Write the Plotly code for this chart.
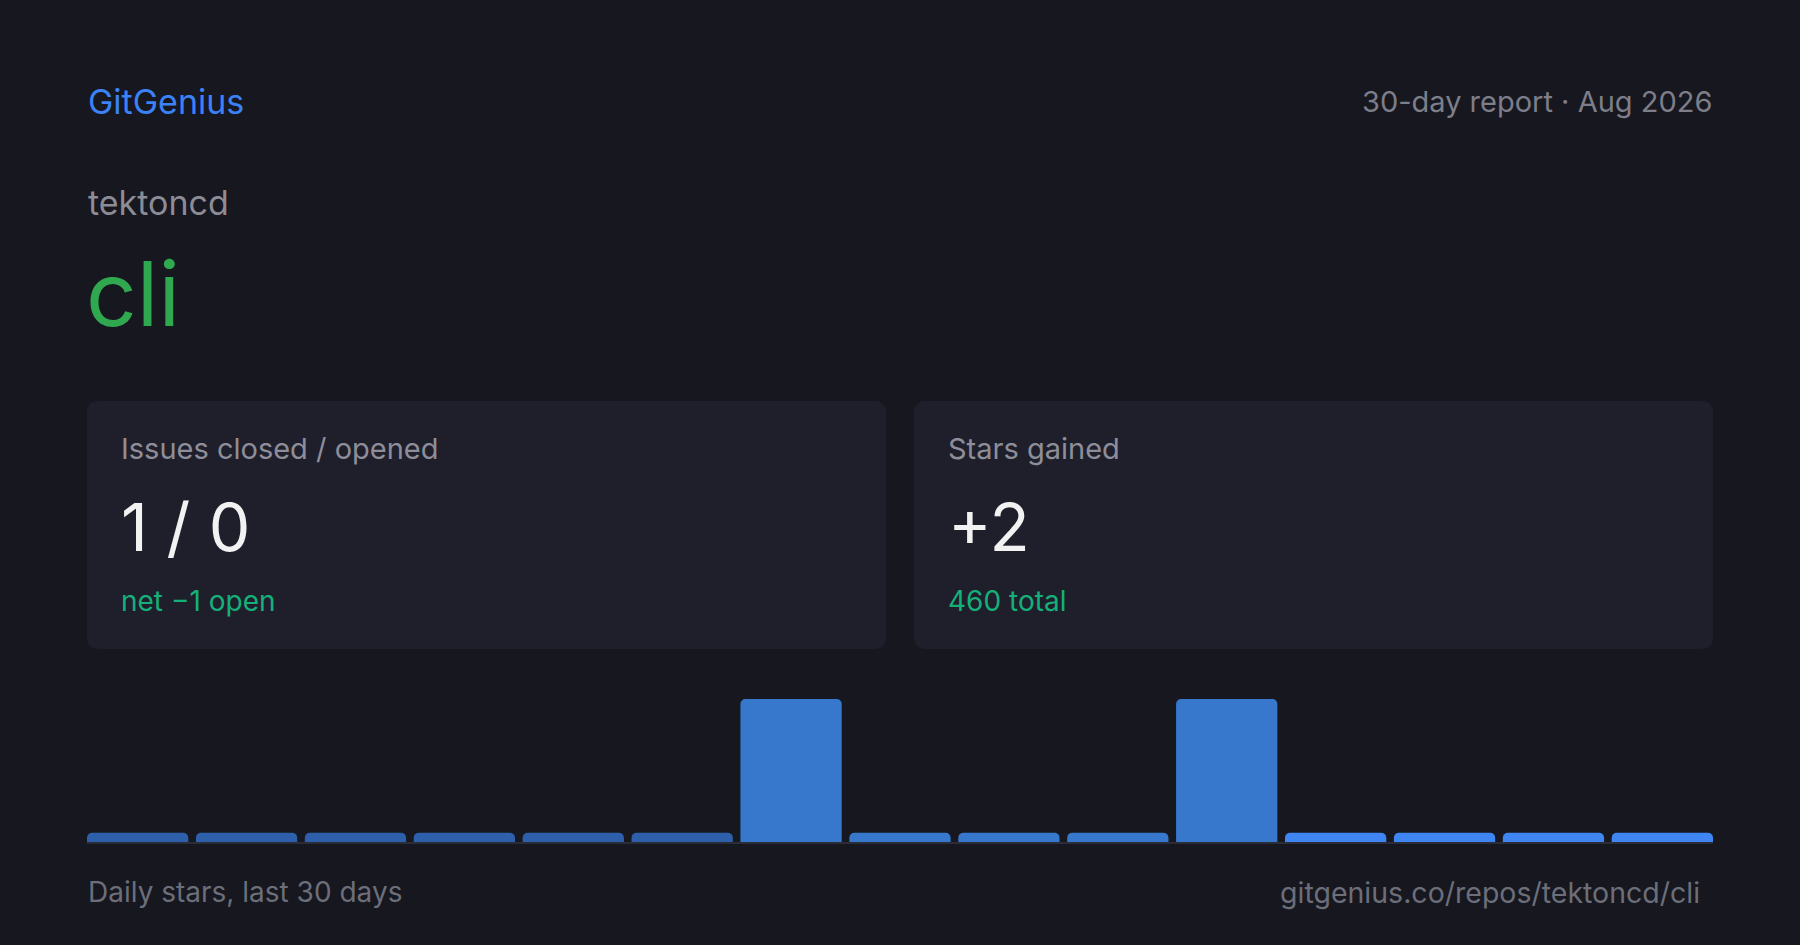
import plotly.graph_objects as go

W, H = 1800, 945

# stars gained per 2-day bucket over the last 30 days
buckets = list(range(15))
stars = [0, 0, 0, 0, 0, 0, 1, 0, 0, 0, 1, 0, 0, 0, 0]

brand = "GitGenius"
period = "30-day report · Aug 2026"
owner = "tektoncd"
repo = "cli"
card_titles = ["Issues closed / opened", "Stars gained"]
card_values = ["1 / 0", "+2"]
card_notes = ["net −1 open", "460 total"]
footer_left = "Daily stars, last 30 days"
footer_right = "gitgenius.co/repos/tektoncd/cli"

BG = "#16171f"
CARD = "#1f1f2b"
FONT = "Inter, Roboto, sans-serif"


def px(x):
    return x / W


def py(y):
    return 1 - y / H


def rounded_rect(x0, y0, x1, y1, r):
    # path in paper coords, r in pixels
    rx, ry = r / W, r / H
    X0, X1 = px(x0), px(x1)
    Y0, Y1 = py(y0), py(y1)  # Y0 top, Y1 bottom
    return (f"M {X0+rx},{Y0} L {X1-rx},{Y0} Q {X1},{Y0} {X1},{Y0-ry} "
            f"L {X1},{Y1+ry} Q {X1},{Y1} {X1-rx},{Y1} L {X0+rx},{Y1} "
            f"Q {X0},{Y1} {X0},{Y1+ry} L {X0},{Y0-ry} Q {X0},{Y0} {X0+rx},{Y0} Z")


# zero days still get a short stub so the row reads as a timeline
stub = 0.065
heights = [v if v > 0 else stub for v in stars]
colors = []
for i in buckets:
    if i <= 5:
        colors.append("#2e5fab")
    elif i <= 10:
        colors.append("#3778cc")
    else:
        colors.append("#3f86f2")

fig = go.Figure(go.Bar(
    x=buckets, y=heights,
    marker=dict(color=colors, cornerradius=5, line=dict(width=0)),
    hoverinfo="skip",
))

x0_bar, x1_bar = 87, 1713
base_y, top_y = 842, 699
gap = 0.07

fig.update_layout(
    width=W, height=H,
    margin=dict(l=0, r=0, t=0, b=0),
    paper_bgcolor=BG, plot_bgcolor=BG,
    showlegend=False,
    bargap=gap,
    font=dict(family=FONT),
    # trim the half gap at both ends so the outer bars touch the card edges
    xaxis=dict(domain=[px(x0_bar), px(x1_bar)],
               range=[-0.5 + gap / 2, len(buckets) - 0.5 - gap / 2],
               visible=False, fixedrange=True),
    yaxis=dict(domain=[py(base_y), py(top_y)], range=[0, 1],
               visible=False, fixedrange=True),
)

shapes = [
    dict(type="path", xref="paper", yref="paper", layer="below",
         path=rounded_rect(87, 401, 886, 649, 12), fillcolor=CARD, line=dict(width=0)),
    dict(type="path", xref="paper", yref="paper", layer="below",
         path=rounded_rect(914, 401, 1713, 649, 12), fillcolor=CARD, line=dict(width=0)),
    dict(type="line", xref="paper", yref="paper",
         x0=px(x0_bar), x1=px(x1_bar), y0=py(843), y1=py(843),
         line=dict(color="#2a2c37", width=2)),
]
fig.update_layout(shapes=shapes)


def label(text, x, y, size, color, anchor="left"):
    fig.add_annotation(text=text, x=px(x), y=py(y), xref="paper", yref="paper",
                       xanchor=anchor, yanchor="middle", showarrow=False,
                       font=dict(size=size, color=color, family=FONT))


label(brand, 86, 101, 34, "#3b82f6")
label(period, 1714, 101, 29, "#7d7e89", anchor="right")
label(owner, 86, 202, 34, "#8c8c96")
label(repo, 84, 293, 89, "#2fa84f")

for i, cx in enumerate([119, 946]):
    label(card_titles[i], cx, 449, 29, "#8d8e99")
    label(card_values[i], cx, 527, 66, "#f2f2f2")
    label(card_notes[i], cx, 601, 28, "#15b07a")

label(footer_left, 86, 892, 28, "#6c6e7a")
label(footer_right, 1702, 892, 28.5, "#6c6e7a", anchor="right")

fig.write_html(
    "out.html",
    config={"displayModeBar": False},
    post_script="document.body.style.margin='0';document.body.style.background='%s';" % BG,
)
